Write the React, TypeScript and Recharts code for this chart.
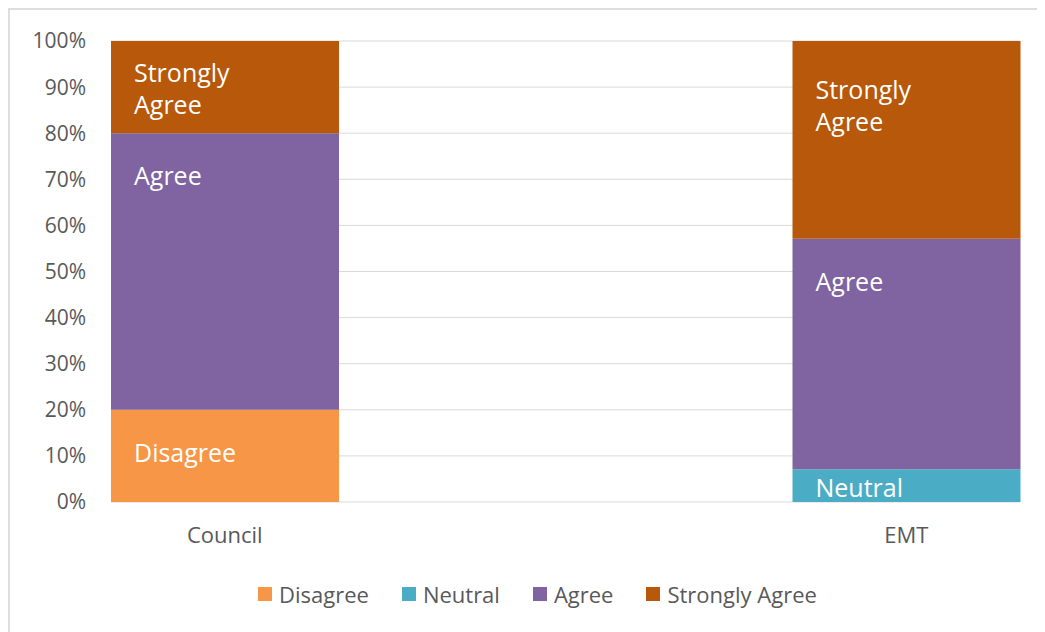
import { BarChart, Bar, XAxis, YAxis, CartesianGrid, Legend, LabelList } from "recharts";

// survey response shares, percent
const categories = ["Council", "EMT"];
const disagree = [20, 0];
const neutral = [0, 7.1];
const agree = [60, 50];
const stronglyAgree = [20, 42.9];
const yTicks = [0, 10, 20, 30, 40, 50, 60, 70, 80, 90, 100];

const series = [
  { key: "disagree", name: "Disagree", color: "#F79646", values: disagree },
  { key: "neutral", name: "Neutral", color: "#4BACC6", values: neutral },
  { key: "agree", name: "Agree", color: "#8064A2", values: agree },
  { key: "stronglyAgree", name: "Strongly Agree", color: "#B7580A", values: stronglyAgree },
];

const data = categories.map((name, i) => {
  const row: Record<string, string | number> = { name };
  series.forEach((s) => {
    row[s.key] = s.values[i];
  });
  return row;
});

const FONT = "'Open Sans', sans-serif";

function renderSegmentLabel(props: any, label: string) {
  const { x, y, height, value } = props;
  if (!value || height <= 0) return null;
  const lines = label.split(" ");
  const lineH = 32;
  const cap = lines.length > 1 ? 47 : 41;
  const firstY = y + Math.min(height / 2 - ((lines.length - 1) * lineH) / 2, cap) + 1;
  return (
    <g>
      {lines.map((ln, i) => (
        <text
          key={i}
          x={x + 23}
          y={firstY + i * lineH}
          fill="#ffffff"
          fontSize={25}
          fontFamily={FONT}
          dominantBaseline="central"
        >
          {ln}
        </text>
      ))}
    </g>
  );
}

const renderLegend = () => (
  <div
    style={{
      display: "flex",
      height: 24,
      alignItems: "center",
      paddingLeft: 248,
      fontFamily: FONT,
      fontSize: 22,
      color: "#595959",
    }}
  >
    {series.map((s) => (
      <span key={s.key} style={{ display: "flex", alignItems: "center", marginRight: 33 }}>
        <span style={{ width: 14, height: 14, background: s.color, marginRight: 7 }} />
        {s.name}
      </span>
    ))}
  </div>
);

export default function App() {
  return (
    <div
      style={{
        width: 1035,
        height: 622,
        borderTop: "2px solid #dedede",
        borderLeft: "2px solid #dedede",
        background: "#fff",
      }}
    >
      <BarChart
        width={1035}
        height={622}
        data={data}
        margin={{ top: 31, right: 25, bottom: 56, left: 0 }}
      >
        <CartesianGrid vertical={false} stroke="#d9d9d9" />
        <XAxis
          dataKey="name"
          tickLine={false}
          axisLine={false}
          padding={{ left: -227, right: -227 }}
          height={50}
          tickSize={0}
          tickMargin={25}
          tick={{ fill: "#595959", fontSize: 22, fontFamily: FONT }}
        />
        <YAxis
          width={101}
          domain={[0, 100]}
          ticks={yTicks}
          tickFormatter={(v) => `${v}%`}
          tickLine={false}
          axisLine={false}
          tickSize={0}
          tickMargin={25}
          tick={{ fill: "#595959", fontSize: 21, fontFamily: FONT }}
        />
        <Legend content={renderLegend} verticalAlign="bottom" wrapperStyle={{ bottom: 26, left: 0 }} />
        {series.map((s) => (
          <Bar
            key={s.key}
            dataKey={s.key}
            name={s.name}
            stackId="a"
            fill={s.color}
            barSize={228}
            isAnimationActive={false}
          >
            <LabelList dataKey={s.key} content={(p: any) => renderSegmentLabel(p, s.name)} />
          </Bar>
        ))}
      </BarChart>
    </div>
  );
}
